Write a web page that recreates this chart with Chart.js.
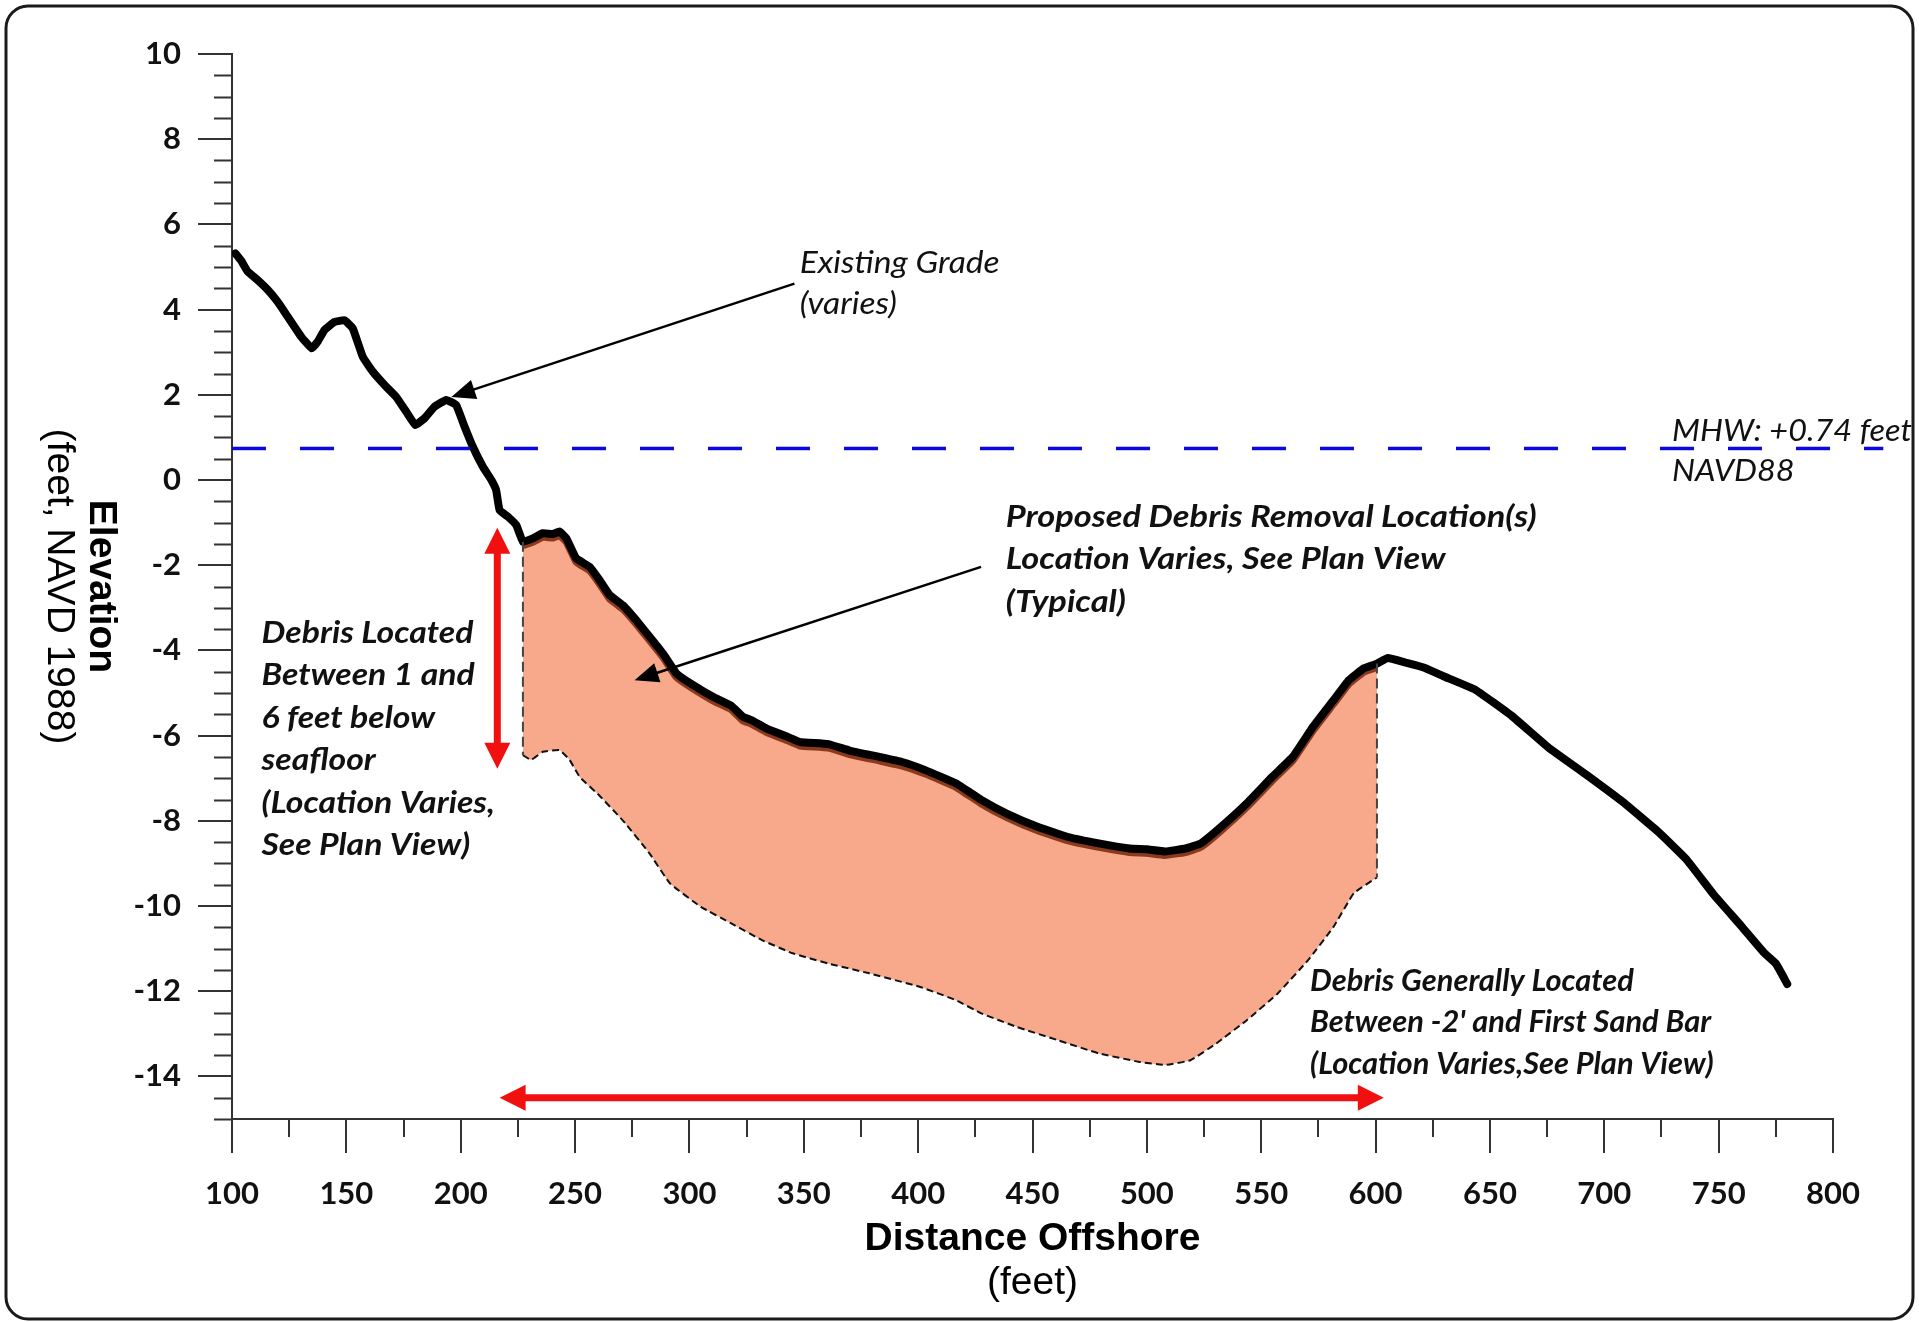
<!DOCTYPE html>
<html>
<head>
<meta charset="utf-8">
<title>Debris Removal Profile</title>
<script src="https://cdn.jsdelivr.net/npm/chart.js@4.4.1/dist/chart.umd.min.js"></script>
<style>
    html, body { margin: 0; padding: 0; background: #fff; }
    canvas { display: block; }
</style>
</head>
<body>
<canvas id="profileChart" width="1919" height="1322"></canvas>
<script>
// Existing grade (seafloor), distance offshore in feet / elevation in feet NAVD 1988
const gradeDistance = [
    101.5, 104, 106.9, 111.3, 115.7, 120, 124.4, 130.3, 134.9, 137.5, 140.4, 144.8, 149.2, 152.8,
    157.2, 161.6, 166.7, 171.8, 176.2, 180.1, 184.2, 188.5, 193.7, 198, 201.7, 205.3, 209.7,
    213.4, 215.5, 217, 220.6, 224.3, 227.2, 231.5, 235.9, 240.3, 243.2, 246.2, 250.5, 256.4,
    260.7, 265.1, 270.9, 276.7, 282.6, 288.4, 294.3, 301.5, 310.3, 318.3, 323.4, 327.2, 333.6,
    342.9, 348.2, 360.7, 370, 383, 393, 403.1, 416.5, 427.6, 438.7, 452.2, 465.6, 479, 492.4,
    500, 508, 516.9, 523.6, 532.5, 543.7, 554.8, 563.8, 572.7, 581.6, 588.3, 594.9, 600.6,
    605.3, 613.4, 621, 629.4, 643.5, 659.6, 675.6, 691.7, 707.7, 723.8, 735.8, 747.8, 759.9,
    769.9, 775, 780
];
const gradeElevation = [
    5.32, 5.15, 4.89, 4.69, 4.46, 4.18, 3.83, 3.36, 3.09, 3.25, 3.52, 3.71, 3.75, 3.56,
    2.89, 2.54, 2.23, 1.95, 1.6, 1.29, 1.45, 1.72, 1.88, 1.76, 1.25, 0.78, 0.31,
    0.0, -0.24, -0.71, -0.86, -1.06, -1.45, -1.37, -1.25, -1.27, -1.21, -1.37, -1.84, -2.04,
    -2.35, -2.7, -2.94, -3.29, -3.68, -4.07, -4.54, -4.81, -5.09, -5.3, -5.56, -5.64, -5.83,
    -6.03, -6.15, -6.2, -6.35, -6.5, -6.62, -6.81, -7.12, -7.51, -7.83, -8.14, -8.38, -8.53, -8.65,
    -8.67, -8.72, -8.65, -8.53, -8.14, -7.59, -6.97, -6.5, -5.79, -5.17, -4.7, -4.42, -4.31,
    -4.18, -4.29, -4.4, -4.6, -4.92, -5.54, -6.28, -6.9, -7.54, -8.27, -8.9, -9.73, -10.47,
    -11.1, -11.35, -11.83
];

// Bottom of the debris zone (dashed line)
const baseDistance = [
    227.2, 230.8, 235.9, 243.2, 247.6, 252, 260.5, 271, 282.6, 291.5, 305, 318.3, 331.7,
    345.1, 360.7, 378.6, 400.9, 416.5, 427.6, 443.2, 461.1, 479, 496.8, 508, 519.1, 530.3,
    543.7, 557.1, 570.5, 581.6, 590.5, 600.6
];
const baseElevation = [
    -6.46, -6.57, -6.38, -6.34, -6.57, -6.97, -7.4, -8.0, -8.77, -9.47, -10.02, -10.41, -10.8,
    -11.11, -11.35, -11.58, -11.9, -12.21, -12.52, -12.84, -13.15, -13.46, -13.66, -13.73, -13.62, -13.23,
    -12.68, -12.06, -11.27, -10.49, -9.7, -9.33
];

// Removal zone limits and mean high water
const removalLimits = [227.2, 600.6];
const mhwDistance = [100, 822];
const mhwElevation = [0.74, 0.74];

// Axis ticks
const xTickValues = [100, 150, 200, 250, 300, 350, 400, 450, 500, 550, 600, 650, 700, 750, 800];
const yTickValues = [10, 8, 6, 4, 2, 0, -2, -4, -6, -8, -10, -12, -14];

const toPoints = (xs, ys) => xs.map((x, i) => ({ x, y: ys[i] }));
const gradePoints = toPoints(gradeDistance, gradeElevation);
const removalTop = gradePoints.filter(p => p.x >= removalLimits[0] && p.x <= removalLimits[1]);
const basePoints = toPoints(baseDistance, baseElevation);

const AXIS_COLOR = '#333';
const SANS = '"Liberation Sans", Arial, sans-serif';
const CAL = 'Lato, "Open Sans", sans-serif';

// Callouts, anchored in data units
const notes = [
    { lines: ['Existing Grade', '(varies)'], x: 348.2, y: 5.09, font: `italic 400 31px ${CAL}`, lineHeight: 40.5, width: 200 },
    { lines: ['Proposed Debris Removal Location(s)', 'Location Varies, See Plan View', '(Typical)'], x: 438.3, y: -0.86, font: `italic 700 31px ${CAL}`, lineHeight: 42.8, width: 531 },
    { lines: ['Debris Located', 'Between 1 and', '6 feet below', 'seafloor', '(Location Varies,', 'See Plan View)'], x: 112.9, y: -3.59, font: `italic 700 31px ${CAL}`, lineHeight: 42.4, width: 212 },
    { lines: ['Debris Generally Located', 'Between -2\' and First Sand Bar', '(Location Varies,See Plan View)'], x: 571.3, y: -11.75, font: `italic 700 31px ${CAL}`, lineHeight: 41.6, width: 324 },
    { lines: ['MHW: +0.74 feet', 'NAVD88'], x: 729.6, y: 1.15, font: `italic 400 31px ${CAL}`, lineHeight: 40.4, width: 240 }
];
const pointers = [
    { from: [345.9, 4.61], to: [195.9, 1.95] },
    { from: [427.5, -2.04], to: [276.0, -4.7] }
];
const spans = [
    { from: [216.0, -1.12], to: [216.0, -6.78] },
    { from: [217.0, -14.5], to: [603.6, -14.5] }
];

const drawArrowHead = (ctx, x, y, angle, len, half) => {
    ctx.beginPath();
    ctx.moveTo(x, y);
    ctx.lineTo(x - len * Math.cos(angle) + half * Math.sin(angle), y - len * Math.sin(angle) - half * Math.cos(angle));
    ctx.lineTo(x - len * Math.cos(angle) - half * Math.sin(angle), y - len * Math.sin(angle) + half * Math.cos(angle));
    ctx.closePath();
    ctx.fill();
};

const drawArrow = (ctx, x1, y1, x2, y2, opts) => {
    const angle = Math.atan2(y2 - y1, x2 - x1);
    const dx = Math.cos(angle), dy = Math.sin(angle);
    const startOff = opts.both ? opts.len * 0.8 : 0;
    ctx.strokeStyle = opts.color;
    ctx.fillStyle = opts.color;
    ctx.lineWidth = opts.width;
    ctx.lineCap = 'butt';
    ctx.beginPath();
    ctx.moveTo(x1 + dx * startOff, y1 + dy * startOff);
    ctx.lineTo(x2 - dx * opts.len * 0.8, y2 - dy * opts.len * 0.8);
    ctx.stroke();
    drawArrowHead(ctx, x2, y2, angle, opts.len, opts.half);
    if (opts.both) drawArrowHead(ctx, x1, y1, angle + Math.PI, opts.len, opts.half);
};

const profilePlugin = {
    id: 'profileExtras',
    beforeDraw(chart) {
        const { ctx, width, height } = chart;
        ctx.save();
        ctx.fillStyle = '#fff';
        ctx.fillRect(0, 0, width, height);
        // rounded frame
        ctx.strokeStyle = '#1a1a1a';
        ctx.lineWidth = 3;
        ctx.beginPath();
        ctx.roundRect(6, 6, width - 12, height - 9, 22);
        ctx.stroke();
        ctx.restore();
    },
    beforeDatasetDraw(chart, args) {
        // brown edge sits just under the grade line
        if (chart.data.datasets[args.index].shiftDown) {
            chart.ctx.save();
            chart.ctx.translate(0, chart.data.datasets[args.index].shiftDown);
        }
    },
    afterDatasetDraw(chart, args) {
        if (chart.data.datasets[args.index].shiftDown) chart.ctx.restore();
    },
    afterDatasetsDraw(chart) {
        const { ctx, scales: { x, y } } = chart;
        ctx.save();
        // dashed end lines of the removal zone
        ctx.strokeStyle = '#444';
        ctx.lineWidth = 2;
        ctx.setLineDash([10, 5]);
        [[removalTop[0], basePoints[0]], [removalTop[removalTop.length - 1], basePoints[basePoints.length - 1]]].forEach(([t, b]) => {
            ctx.beginPath();
            ctx.moveTo(x.getPixelForValue(t.x), y.getPixelForValue(t.y));
            ctx.lineTo(x.getPixelForValue(b.x), y.getPixelForValue(b.y));
            ctx.stroke();
        });
        ctx.setLineDash([]);

        pointers.forEach(p => drawArrow(ctx,
            x.getPixelForValue(p.from[0]), y.getPixelForValue(p.from[1]),
            x.getPixelForValue(p.to[0]), y.getPixelForValue(p.to[1]),
            { color: '#000', width: 2.5, len: 24, half: 10 }));
        spans.forEach(s => drawArrow(ctx,
            x.getPixelForValue(s.from[0]), y.getPixelForValue(s.from[1]),
            x.getPixelForValue(s.to[0]), y.getPixelForValue(s.to[1]),
            { color: '#f01010', width: 7, len: 26, half: 13, both: true }));

        // callout text
        ctx.fillStyle = '#111';
        ctx.textAlign = 'left';
        ctx.textBaseline = 'middle';
        notes.forEach(n => {
            ctx.font = n.font;
            const sx = n.width / ctx.measureText(n.lines[0]).width;
            ctx.save();
            ctx.translate(x.getPixelForValue(n.x), y.getPixelForValue(n.y));
            ctx.scale(sx, 1);
            n.lines.forEach((t, i) => ctx.fillText(t, 0, i * n.lineHeight));
            ctx.restore();
        });
        ctx.restore();
    },
    afterDraw(chart) {
        const { ctx, chartArea: a, scales: { x, y } } = chart;
        ctx.save();
        // minor ticks
        ctx.strokeStyle = AXIS_COLOR;
        ctx.lineWidth = 2;
        ctx.beginPath();
        for (let k = -30; k <= 20; k++) {
            if (k % 4 === 0) continue;
            const py = Math.round(y.getPixelForValue(k / 2)) + 0.5;
            ctx.moveTo(a.left - 18, py);
            ctx.lineTo(a.left, py);
        }
        for (let v = 125; v < 800; v += 50) {
            const px = Math.round(x.getPixelForValue(v));
            ctx.moveTo(px, a.bottom);
            ctx.lineTo(px, a.bottom + 18);
        }
        ctx.stroke();

        // axis titles
        ctx.fillStyle = '#000';
        ctx.textAlign = 'center';
        ctx.textBaseline = 'middle';
        const cx = (a.left + a.right) / 2;
        const cy = (a.top + a.bottom) / 2;
        ctx.font = `bold 39px ${SANS}`;
        ctx.fillText('Distance Offshore', cx, 1239);
        ctx.font = `39px ${SANS}`;
        ctx.fillText('(feet)', cx, 1283);

        // y title reads top to bottom
        ctx.save();
        ctx.translate(101, cy);
        ctx.rotate(Math.PI / 2);
        ctx.font = `bold 39px ${SANS}`;
        ctx.fillText('Elevation', 0, 0);
        ctx.restore();
        ctx.save();
        ctx.translate(59, cy);
        ctx.rotate(Math.PI / 2);
        ctx.font = `39px ${SANS}`;
        ctx.fillText('(feet, NAVD 1988)', 0, 0);
        ctx.restore();
        ctx.restore();
    }
};

new Chart(document.getElementById('profileChart').getContext('2d'), {
    type: 'line',
    data: {
        datasets: [{
            label: 'MHW',
            data: toPoints(mhwDistance, mhwElevation),
            borderColor: '#0a0ae0',
            borderWidth: 3.5,
            borderDash: [34, 34],
            pointRadius: 0,
            clip: false,
            order: 1
        }, {
            label: 'Existing Grade',
            data: gradePoints,
            borderColor: '#000',
            borderWidth: 8,
            borderJoinStyle: 'round',
            borderCapStyle: 'round',
            tension: 0.1,
            pointRadius: 0,
            order: 2
        }, {
            label: 'Removal edge',
            data: removalTop,
            borderColor: '#8a3a1c',
            borderWidth: 7,
            borderJoinStyle: 'round',
            tension: 0.1,
            pointRadius: 0,
            shiftDown: 4,
            order: 3
        }, {
            label: 'Debris base',
            data: basePoints,
            borderColor: '#111',
            borderWidth: 2,
            borderDash: [7, 4],
            tension: 0.1,
            pointRadius: 0,
            order: 4
        }, {
            label: 'Removal area',
            data: removalTop,
            borderWidth: 0,
            borderColor: 'rgba(0,0,0,0)',
            backgroundColor: '#f9a98b',
            fill: 3,
            tension: 0.1,
            pointRadius: 0,
            order: 5
        }]
    },
    options: {
        responsive: false,
        animation: false,
        devicePixelRatio: 1,
        layout: {
            padding: { left: 0, top: 54, right: 86, bottom: 0 }
        },
        plugins: {
            legend: { display: false },
            tooltip: { enabled: false }
        },
        scales: {
            x: {
                type: 'linear',
                min: 100,
                max: 800,
                afterBuildTicks: scale => { scale.ticks = xTickValues.map(value => ({ value })); },
                afterFit: scale => { scale.height = 203; },
                grid: { drawOnChartArea: false, tickLength: 34, color: AXIS_COLOR, lineWidth: 2 },
                border: { display: true, color: AXIS_COLOR, width: 2 },
                ticks: {
                    autoSkip: false,
                    maxRotation: 0,
                    padding: 22,
                    color: '#111',
                    font: { family: 'Lato', size: 31, weight: 'bold' }
                }
            },
            y: {
                type: 'linear',
                min: -15,
                max: 10,
                afterBuildTicks: scale => { scale.ticks = yTickValues.map(value => ({ value })); },
                afterFit: scale => { scale.width = 232; },
                grid: { drawOnChartArea: false, tickLength: 34, color: AXIS_COLOR, lineWidth: 2 },
                border: { display: true, color: AXIS_COLOR, width: 2 },
                ticks: {
                    autoSkip: false,
                    padding: 17,
                    color: '#111',
                    font: { family: 'Lato', size: 31, weight: 'bold' }
                }
            }
        }
    },
    plugins: [profilePlugin]
});
</script>
</body>
</html>
